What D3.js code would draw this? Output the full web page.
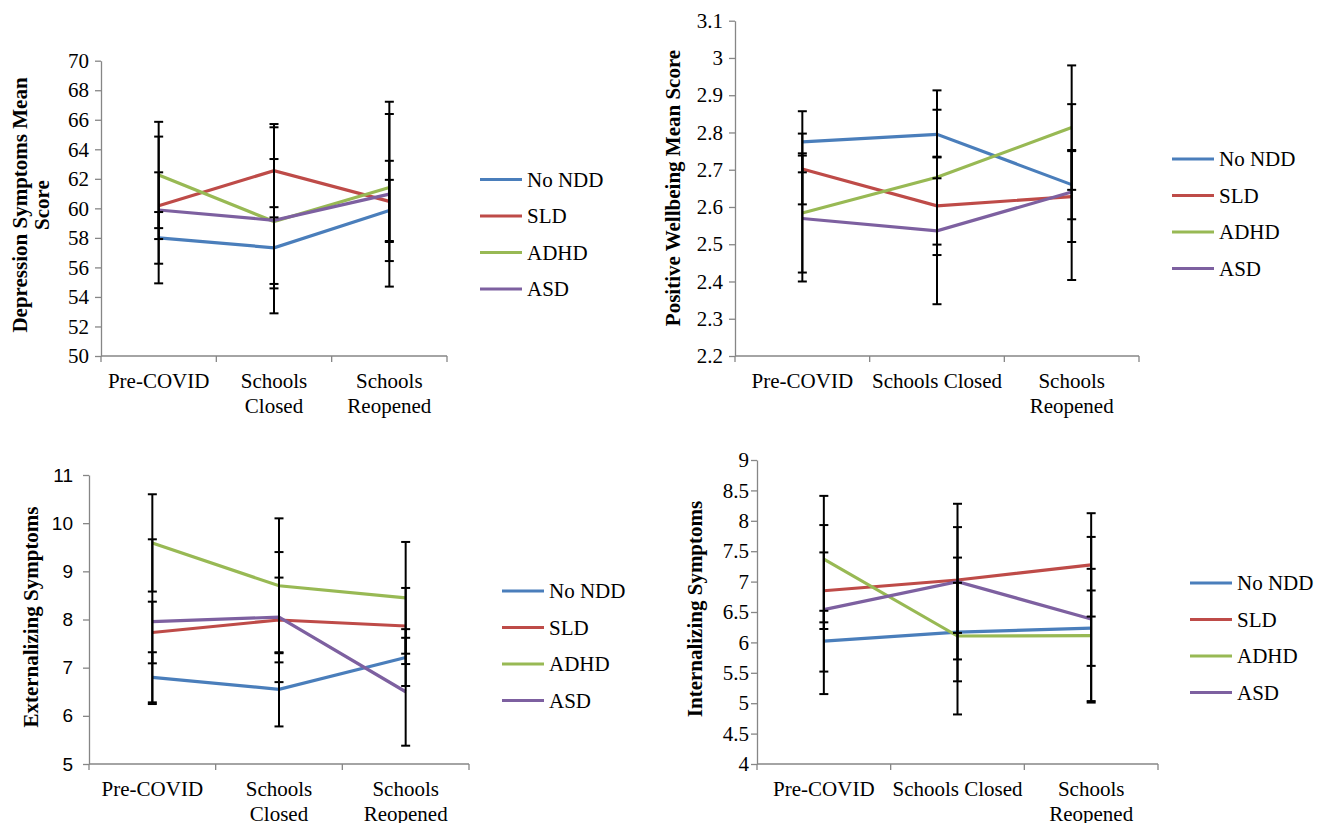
<!DOCTYPE html>
<html>
<head>
<meta charset="utf-8">
<script src="https://cdn.jsdelivr.net/npm/d3@7"></script>
<style>
  body { margin: 0; background: #fff; }
</style>
</head>
<body>
<script>
// categories and groups shared by all four panels
const categories = ["Pre-COVID", "Schools Closed", "Schools Reopened"];
const groups = ["No NDD", "SLD", "ADHD", "ASD"];
const colors = ["#4a7ebb", "#be4b48", "#98b954", "#7d60a0"];

// depression (rows follow groups)
const depMeans = [[58.0, 57.33, 59.86], [60.18, 62.55, 60.47], [62.26, 59.11, 61.41], [59.89, 59.19, 60.96]];
const depErr = [[1.75, 2.75, 2.07], [2.26, 3.16, 2.75], [3.6, 4.23, 4.98], [4.97, 6.3, 6.26]];
const depTicks = [50, 52, 54, 56, 58, 60, 62, 64, 66, 68, 70];

// positive wellbeing
const wellMeans = [[2.775, 2.795, 2.66], [2.702, 2.603, 2.628], [2.584, 2.68, 2.813], [2.569, 2.536, 2.64]];
const wellErr = [[0.082, 0.118, 0.093], [0.095, 0.132, 0.122], [0.16, 0.181, 0.167], [0.169, 0.197, 0.236]];
const wellTicks = [2.2, 2.3, 2.4, 2.5, 2.6, 2.7, 2.8, 2.9, 3, 3.1];

// externalizing
const extMeans = [[6.8, 6.55, 7.21], [7.73, 7.99, 7.865], [9.59, 8.7, 8.45], [7.955, 8.05, 6.5]];
const extErr = [[0.52, 0.77, 0.59], [0.64, 0.88, 0.79], [1.01, 1.4, 1.16], [1.71, 1.35, 1.12]];
const extTicks = [5, 6, 7, 8, 9, 10, 11];

// internalizing
const intMeans = [[6.02, 6.17, 6.234], [6.85, 7.026, 7.275], [7.37, 6.105, 6.11], [6.54, 7.0, 6.385]];
const intErr = [[0.5, 0.81, 0.62], [0.63, 0.87, 0.85], [1.04, 1.29, 1.1], [1.39, 1.28, 1.35]];
const intTicks = [4, 4.5, 5, 5.5, 6, 6.5, 7, 7.5, 8, 8.5, 9];

const serif = "'Liberation Serif', 'Times New Roman', serif";
const sans = "'Liberation Sans', Arial, sans-serif";

const svg = d3.select("body").append("svg")
  .attr("width", 1330)
  .attr("height", 823);

function drawPanel(p) {
  const x = d3.scaleBand().domain(categories).range([p.left, p.right]);
  const y = d3.scaleLinear()
    .domain([p.ticks[0], p.ticks[p.ticks.length - 1]])
    .range([p.bottom, p.top]);
  const g = svg.append("g");

  // y axis
  const yAxis = g.append("g")
    .attr("transform", "translate(" + p.left + ",0)")
    .call(d3.axisLeft(y)
      .tickValues(p.ticks)
      .tickSize(6)
      .tickSizeOuter(0)
      .tickPadding(p.pad)
      .tickFormat(d => String(+d.toFixed(2))));
  yAxis.attr("font-family", null).attr("font-size", null);
  yAxis.select(".domain").attr("stroke", "#868686").attr("stroke-width", 1.3);
  yAxis.selectAll(".tick line").attr("stroke", "#868686").attr("stroke-width", 1.3);
  yAxis.selectAll(".tick text")
    .style("font-family", p.tickFont)
    .style("font-size", p.tickSize + "px")
    .attr("fill", "#000");

  // x axis: line and ticks at band edges
  g.append("line")
    .attr("x1", p.left).attr("x2", p.right)
    .attr("y1", p.bottom).attr("y2", p.bottom)
    .attr("stroke", "#868686").attr("stroke-width", 1.3);
  const edges = categories.map(c => x(c)).concat([p.right]);
  g.selectAll(".xtick").data(edges).enter().append("line")
    .attr("x1", d => d).attr("x2", d => d)
    .attr("y1", p.bottom).attr("y2", p.bottom + 6)
    .attr("stroke", "#868686").attr("stroke-width", 1.3);

  // x labels
  const lbl = g.selectAll(".xlabel").data(categories).enter().append("text")
    .attr("text-anchor", "middle")
    .style("font-family", serif)
    .style("font-size", "21px")
    .attr("x", d => x(d) + x.bandwidth() / 2)
    .attr("y", p.bottom + 32);
  lbl.each(function (d, i) {
    const lines = p.labels[i];
    d3.select(this).selectAll("tspan").data(lines).enter().append("tspan")
      .attr("x", x(d) + x.bandwidth() / 2)
      .attr("dy", (l, j) => j === 0 ? 0 : 25)
      .text(l => l);
  });

  // y title
  const title = g.append("text")
    .attr("transform", "translate(" + p.titleX + "," + p.titleY + ") rotate(-90)")
    .attr("text-anchor", "middle")
    .style("font-family", serif)
    .style("font-weight", "bold")
    .style("font-size", "21px");
  title.selectAll("tspan").data(p.title).enter().append("tspan")
    .attr("x", 0)
    .attr("dy", (l, j) => j === 0 ? 0 : 22)
    .text(l => l);

  // lines
  const line = d3.line()
    .x((d, i) => x(categories[i]) + x.bandwidth() / 2)
    .y(d => y(d));
  g.selectAll(".series").data(p.means).enter().append("path")
    .attr("d", d => line(d))
    .attr("fill", "none")
    .attr("stroke", (d, i) => colors[i])
    .attr("stroke-width", 3.2);

  // error bars
  const bars = [];
  p.means.forEach((row, s) => row.forEach((m, c) => {
    bars.push({ cx: x(categories[c]) + x.bandwidth() / 2, lo: m - p.err[s][c], hi: m + p.err[s][c] });
  }));
  const eb = g.selectAll(".eb").data(bars).enter().append("g").attr("stroke", "#000").attr("stroke-width", 2);
  eb.append("line")
    .attr("x1", d => d.cx).attr("x2", d => d.cx)
    .attr("y1", d => y(d.lo)).attr("y2", d => y(d.hi));
  eb.append("line")
    .attr("x1", d => d.cx - 4.5).attr("x2", d => d.cx + 4.5)
    .attr("y1", d => y(d.lo)).attr("y2", d => y(d.lo));
  eb.append("line")
    .attr("x1", d => d.cx - 4.5).attr("x2", d => d.cx + 4.5)
    .attr("y1", d => y(d.hi)).attr("y2", d => y(d.hi));

  // legend
  const leg = g.selectAll(".leg").data(groups).enter().append("g")
    .attr("transform", (d, i) => "translate(0," + (p.legY + i * 36.5) + ")");
  leg.append("line")
    .attr("x1", p.legX).attr("x2", p.legX + 42)
    .attr("y1", 0).attr("y2", 0)
    .attr("stroke", (d, i) => colors[i])
    .attr("stroke-width", 3.2);
  leg.append("text")
    .attr("x", p.legX + 47)
    .attr("y", 7)
    .style("font-family", serif)
    .style("font-size", "21px")
    .text(d => d);
}

drawPanel({
  means: depMeans, err: depErr, ticks: depTicks,
  left: 101, right: 447, top: 60.7, bottom: 356,
  tickFont: serif, tickSize: 21, pad: 6,
  labels: [["Pre-COVID"], ["Schools", "Closed"], ["Schools", "Reopened"]],
  title: ["Depression Symptoms Mean", "Score"], titleX: 27, titleY: 205,
  legX: 480, legY: 179.5
});

drawPanel({
  means: wellMeans, err: wellErr, ticks: wellTicks,
  left: 735, right: 1139, top: 20.7, bottom: 356,
  tickFont: serif, tickSize: 21, pad: 6,
  labels: [["Pre-COVID"], ["Schools Closed"], ["Schools", "Reopened"]],
  title: ["Positive Wellbeing Mean Score"], titleX: 680, titleY: 188,
  legX: 1172, legY: 159
});

drawPanel({
  means: extMeans, err: extErr, ticks: extTicks,
  left: 89, right: 469, top: 475, bottom: 764,
  tickFont: sans, tickSize: 19, pad: 10,
  labels: [["Pre-COVID"], ["Schools", "Closed"], ["Schools", "Reopened"]],
  title: ["Externalizing Symptoms"], titleX: 38, titleY: 617,
  legX: 502, legY: 591
});

drawPanel({
  means: intMeans, err: intErr, ticks: intTicks,
  left: 757, right: 1158, top: 460, bottom: 764,
  tickFont: serif, tickSize: 21, pad: 2,
  labels: [["Pre-COVID"], ["Schools Closed"], ["Schools", "Reopened"]],
  title: ["Internalizing Symptoms"], titleX: 702, titleY: 609,
  legX: 1190, legY: 583
});
</script>
</body>
</html>
